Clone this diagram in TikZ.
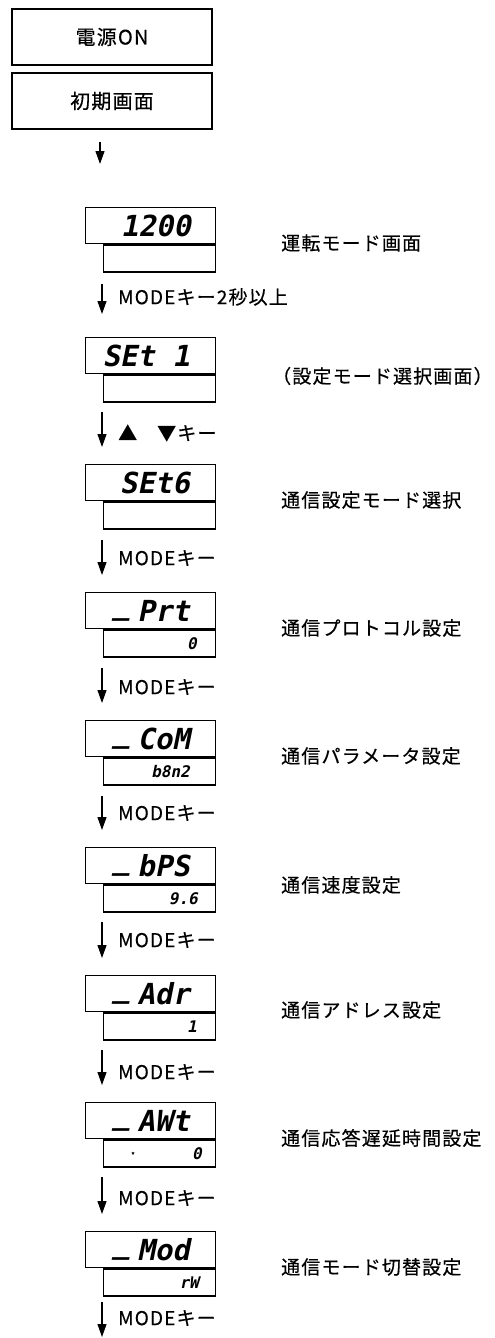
\documentclass[tikz,border=0pt]{standalone}
\usepackage{fontspec}
\setmainfont{Noto Sans CJK JP}[LetterSpace=6, FakeBold=0.4]
\newfontfamily\segfont{DejaVu Sans Mono Bold}[FakeSlant=0.2]
\usetikzlibrary{arrows.meta}
\begin{document}
\begin{tikzpicture}[x=1pt,y=-1pt,
  startbox/.style={draw, line width=1.3pt, minimum width=200pt, minimum height=56pt, inner sep=0pt, font=\fontsize{20}{20}\selectfont},
  upper/.style={draw, line width=1.3pt, minimum width=130pt, minimum height=36pt, inner sep=0pt, anchor=north west},
  lower/.style={draw, line width=1.3pt, minimum width=112pt, minimum height=27pt, inner sep=0pt, anchor=north east},
  segbig/.style={font=\segfont\fontsize{29}{29}\selectfont, inner sep=0pt, anchor=base east},
  segus/.style={font=\segfont\fontsize{29}{29}\selectfont, inner sep=0pt, anchor=base west},
  segsmall/.style={font=\segfont\fontsize{16}{16}\selectfont, inner sep=0pt, anchor=base east},
  desc/.style={font=\fontsize{19}{19}\selectfont, inner sep=0pt, anchor=west},
  keylbl/.style={font=\fontsize{19}{19}\selectfont, inner sep=0pt, anchor=west},
  arr/.style={line width=1.2pt, -{Triangle[length=13pt,width=9pt]}}
]
\useasboundingbox (0,0) rectangle (495,1338);

% start boxes
\node[startbox] (b1) at (112,37) {電源ON};
\node[startbox] (b2) at (112,101) {初期画面};
\coordinate (a1s) at (100,142);
\coordinate (a1e) at (100,164);
\draw[arr] (a1s) -- (a1e);

% display 1
\node[upper] (u1) at (85,207) {};
\node[lower] (l1) at (u1.south east) {};
\node[segbig] (t1) at (191,236) {1200};
\node[desc] (d1) at (281,243) {運転モード画面};
\coordinate (a2s) at (102,284);
\coordinate (a2e) at (102,314);
\draw[arr] (a2s) -- (a2e);
\node[keylbl] (k2) at (118,297) {MODEキー2秒以上};

% display 2
\node[upper] (u2) at (85,337) {};
\node[lower] (l2) at (u2.south east) {};
\node[segbig] (t2) at (190,366) {SEt 1};
\node[desc] (d2) at (272,376) {（設定モード選択画面）};
\coordinate (a3s) at (102,412);
\coordinate (a3e) at (102,447);
\draw[arr] (a3s) -- (a3e);
\node[keylbl] (k3) at (118,433) {▲\hspace{20pt}▼キー};

% display 3
\node[upper] (u3) at (85,464) {};
\node[lower] (l3) at (u3.south east) {};
\node[segbig] (t3) at (190,493) {SEt6};
\node[desc] (d3) at (281,500) {通信設定モード選択};
\coordinate (a4s) at (102,540);
\coordinate (a4e) at (102,575);
\draw[arr] (a4s) -- (a4e);
\node[keylbl] (k4) at (118,558) {MODEキー};

% display 4
\node[upper] (u4) at (85,592) {};
\node[lower] (l4) at (u4.south east) {};
\node[segbig] (t4) at (190,621) {Prt};
\node[segus] (v4) at (113,614.5) {\_};
\node[segsmall] (s4) at (197,649) {0};
\node[desc] (d4) at (281,628) {通信プロトコル設定};
\coordinate (a5s) at (102,668);
\coordinate (a5e) at (102,703);
\draw[arr] (a5s) -- (a5e);
\node[keylbl] (k5) at (118,687) {MODEキー};

% display 5
\node[upper] (u5) at (85,720) {};
\node[lower] (l5) at (u5.south east) {};
\node[segbig] (t5) at (190,749) {CoM};
\node[segus] (v5) at (113,742.5) {\_};
\node[segsmall] (s5) at (190,777) {b8n2};
\node[desc] (d5) at (281,756) {通信パラメータ設定};
\coordinate (a6s) at (102,796);
\coordinate (a6e) at (102,830);
\draw[arr] (a6s) -- (a6e);
\node[keylbl] (k6) at (118,813) {MODEキー};

% display 6
\node[upper] (u6) at (85,847) {};
\node[lower] (l6) at (u6.south east) {};
\node[segbig] (t6) at (190,876) {bPS};
\node[segus] (v6) at (113,869.5) {\_};
\node[segsmall] (s6) at (198,904) {9.6};
\node[desc] (d6) at (281,885) {通信速度設定};
\coordinate (a7s) at (102,922);
\coordinate (a7e) at (102,958);
\draw[arr] (a7s) -- (a7e);
\node[keylbl] (k7) at (118,940) {MODEキー};

% display 7
\node[upper] (u7) at (85,975) {};
\node[lower] (l7) at (u7.south east) {};
\node[segbig] (t7) at (190,1004) {Adr};
\node[segus] (v7) at (113,997.5) {\_};
\node[segsmall] (s7) at (197,1032) {1};
\node[desc] (d7) at (281,1010) {通信アドレス設定};
\coordinate (a8s) at (102,1050);
\coordinate (a8e) at (102,1085);
\draw[arr] (a8s) -- (a8e);
\node[keylbl] (k8) at (118,1072) {MODEキー};

% display 8
\node[upper] (u8) at (85,1102) {};
\node[lower] (l8) at (u8.south east) {};
\node[segbig] (t8) at (190,1131) {AWt};
\node[segus] (v8) at (113,1124.5) {\_};
\node[segsmall] (s8) at (202,1159) {0};
\node[font=\fontsize{8}{8}\selectfont, inner sep=0pt] (m8) at (133,1155) {*};
\node[desc] (d8) at (281,1138) {通信応答遅延時間設定};
\coordinate (a9s) at (102,1177);
\coordinate (a9e) at (102,1214);
\draw[arr] (a9s) -- (a9e);
\node[keylbl] (k9) at (118,1198) {MODEキー};

% display 9
\node[upper] (u9) at (85,1231) {};
\node[lower] (l9) at (u9.south east) {};
\node[segbig] (t9) at (190,1260) {Mod};
\node[segus] (v9) at (113,1253.5) {\_};
\node[segsmall] (s9) at (199,1288) {rW};
\node[desc] (d9) at (281,1267) {通信モード切替設定};
\coordinate (a10s) at (102,1302);
\coordinate (a10e) at (102,1337);
\draw[arr] (a10s) -- (a10e);
\node[keylbl] (k10) at (118,1318) {MODEキー};
\end{tikzpicture}
\end{document}
